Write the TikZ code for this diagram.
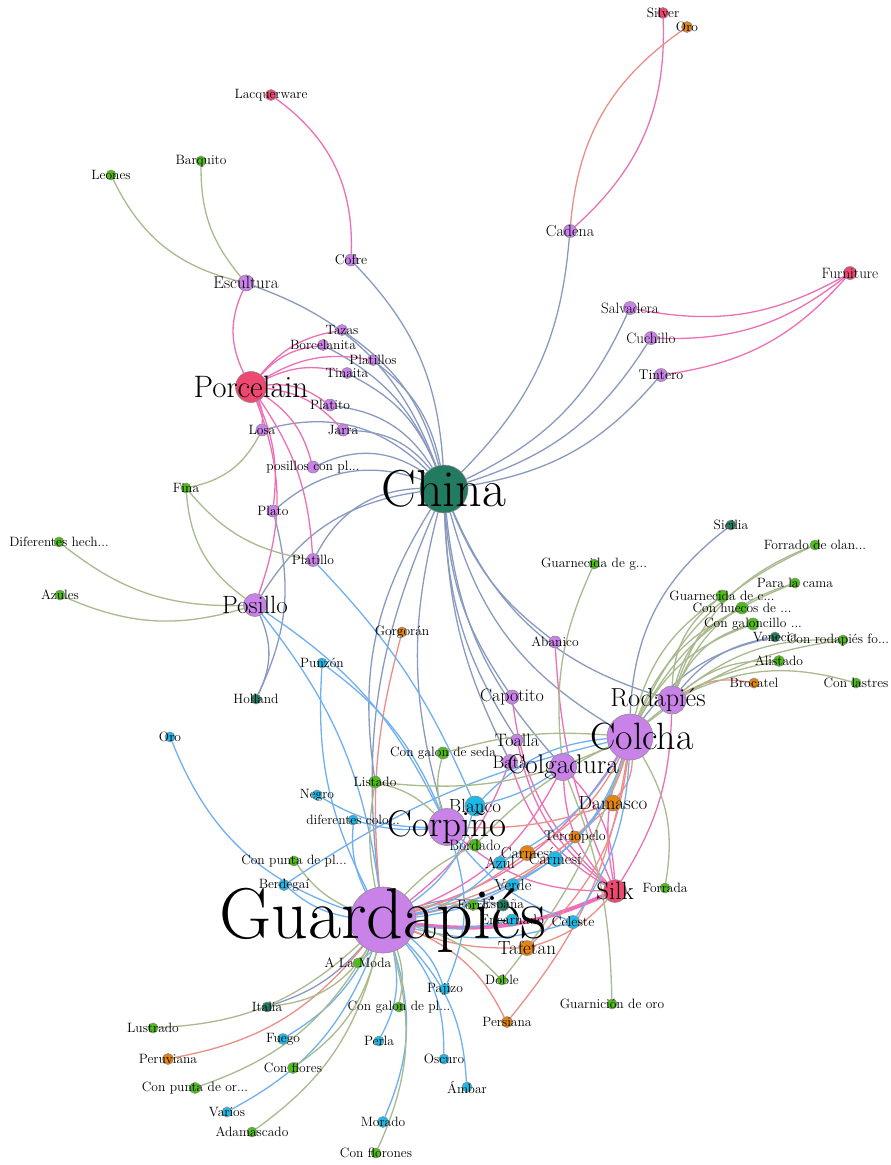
\documentclass[tikz,border=0pt]{standalone}
\usepackage{xcolor}
\usepackage{tikz}
\usetikzlibrary{backgrounds}

\definecolor{cPurple}{RGB}{201,130,232}
\definecolor{cRed}{RGB}{236,72,112}
\definecolor{cGreen}{RGB}{78,190,22}
\definecolor{cOrange}{RGB}{228,132,18}
\definecolor{cCyan}{RGB}{28,186,232}
\definecolor{cTeal}{RGB}{34,122,96}
\definecolor{eSlate}{RGB}{136,154,194}
\definecolor{ePink}{RGB}{236,112,184}
\definecolor{eGreen}{RGB}{168,186,142}
\definecolor{eBlue}{RGB}{112,176,240}
\definecolor{eSalmon}{RGB}{236,142,136}

\newcommand\lblsize[1]{\fontsize{#1}{#1}\selectfont}

\begin{document}
\begin{tikzpicture}[
    x=1pt, y=1pt,
    % the circles
    item/.style={circle, inner sep=0pt, draw=black!45, line width=0.6pt},
    pnode/.style={item, fill=cPurple},
    rnode/.style={item, fill=cRed},
    gnode/.style={item, fill=cGreen},
    onode/.style={item, fill=cOrange},
    cnode/.style={item, fill=cCyan},
    tnode/.style={item, fill=cTeal},
    % the texts
    every label/.style={font=\lblsize{13.5}, text=black, inner sep=0pt},
    % the links
    link/.style={line width=1.3pt},
    slateedge/.style={link, draw=eSlate},
    pinkedge/.style={link, draw=ePink},
    greenedge/.style={link, draw=eGreen},
    blueedge/.style={link, draw=eBlue},
    salmonedge/.style={link, draw=eSalmon}
  ]
  \useasboundingbox (0,0) rectangle (891,-1165);

  % top
  \node (silver) [rnode, minimum size=11pt, label=center:Silver] at (663,-13) {};
  \node (oroA) [onode, minimum size=11pt, label=center:Oro] at (687,-27) {};
  \node (lacquer) [rnode, minimum size=11pt, label=center:Lacquerware] at (271,-95) {};
  \node (barquito) [gnode, minimum size=10pt, label=center:Barquito] at (201,-161) {};
  \node (leones) [gnode, minimum size=10pt, label=center:Leones] at (111,-175) {};
  \node (cofre) [pnode, minimum size=12pt, label={[font=\lblsize{14}]center:Cofre}] at (351,-260) {};
  \node (cadena) [pnode, minimum size=13pt, label={[font=\lblsize{16}]center:Cadena}] at (570,-231) {};
  \node (escultura) [pnode, minimum size=16pt, label={[font=\lblsize{17}]center:Escultura}] at (246,-283) {};
  \node (furniture) [rnode, minimum size=13pt, label={[font=\lblsize{15}]center:Furniture}] at (850,-273) {};
  \node (salvadera) [pnode, minimum size=13pt, label={[font=\lblsize{15}]center:Salvadera}] at (630,-308) {};
  \node (cuchillo) [pnode, minimum size=13pt, label={[font=\lblsize{15}]center:Cuchillo}] at (651,-338) {};
  \node (tintero) [pnode, minimum size=13pt, label={[font=\lblsize{14}]center:Tintero}] at (661,-375) {};

  % porcelain and china
  \node (tazas) [pnode, minimum size=11pt, label=center:Tazas] at (342,-330) {};
  \node (borcelanita) [pnode, minimum size=11pt, label=center:Borcelanita] at (323,-345) {};
  \node (platillos) [pnode, minimum size=11pt, label=center:Platillos] at (373,-360) {};
  \node (tinaita) [pnode, minimum size=11pt, label=center:Tinaita] at (347,-373) {};
  \node (porcelain) [rnode, minimum size=31pt, label={[font=\lblsize{31}]center:Porcelain}] at (251,-387) {};
  \node (platito) [pnode, minimum size=12pt, label=center:Platito] at (330,-405) {};
  \node (losa) [pnode, minimum size=12pt, label=center:Losa] at (262,-430) {};
  \node (jarra) [pnode, minimum size=12pt, label=center:Jarra] at (343,-430) {};
  \node (posillos) [pnode, minimum size=12pt, label={center:posillos con pl...}] at (313,-467) {};
  \node (china) [tnode, minimum size=48pt, label={[font=\lblsize{52}]center:China}] at (444,-489) {};
  \node (fina) [gnode, minimum size=10pt, label=center:Fina] at (186,-488) {};
  \node (plato) [pnode, minimum size=12pt, label=center:Plato] at (273,-511) {};
  \node (platillo) [pnode, minimum size=13pt, label=center:Platillo] at (313,-560) {};
  \node (posillo) [pnode, minimum size=23pt, label={[font=\lblsize{25}]center:Posillo}] at (255,-605) {};
  \node (difhech) [gnode, minimum size=10pt, label={center:Diferentes hech...}] at (59,-542) {};
  \node (azules) [gnode, minimum size=10pt, label=center:Azules] at (60,-595) {};
  \node (holland) [tnode, minimum size=10pt, label=center:Holland] at (256,-699) {};
  \node (punzon) [cnode, minimum size=10pt, label=center:Punzón] at (322,-663) {};
  \node (oroB) [cnode, minimum size=10pt, label=center:Oro] at (170,-737) {};
  \node (gorgoran) [onode, minimum size=10pt, label=center:Gorgorán] at (402,-632) {};
  \node (abanico) [pnode, minimum size=12pt, label=center:Abanico] at (555,-642) {};

  % right cluster
  \node (guarng) [gnode, minimum size=10pt, label={center:Guarnecida de g...}] at (594,-564) {};
  \node (sicilia) [tnode, minimum size=10pt, label=center:Sicilia] at (731,-525) {};
  \node (forrado) [gnode, minimum size=10pt, label={center:Forrado de olan...}] at (815,-545) {};
  \node (paracama) [gnode, minimum size=10pt, label={center:Para la cama}] at (795,-583) {};
  \node (guarnc) [gnode, minimum size=12pt, label={center:Guarnecida de c...}] at (722,-596) {};
  \node (huecos) [gnode, minimum size=12pt, label={center:Con huecos de ...}] at (742,-608) {};
  \node (galoncillo) [gnode, minimum size=12pt, label={center:Con galoncillo ...}] at (753,-624) {};
  \node (venecia) [tnode, minimum size=10pt, label=center:Venecia] at (775,-637) {};
  \node (conrodapies) [gnode, minimum size=10pt, label={[xshift=-5pt]center:Con rodapiés fo...}] at (843,-640) {};
  \node (alistado) [gnode, minimum size=11pt, label=center:Alistado] at (779,-661) {};
  \node (brocatel) [onode, minimum size=10pt, label=center:Brocatel] at (754,-683) {};
  \node (lastres) [gnode, minimum size=10pt, label={center:Con lastres}] at (856,-683) {};
  \node (rodapies) [pnode, minimum size=28pt, label={[font=\lblsize{26}, xshift=-14pt]center:Rodapiés}] at (672,-700) {};

  % middle
  \node (capotito) [pnode, minimum size=14pt, label={[font=\lblsize{18}]center:Capotito}] at (512,-697) {};
  \node (colcha) [pnode, minimum size=46pt, label={[font=\lblsize{38}, xshift=12pt]center:Colcha}] at (630,-737) {};
  \node (toalla) [pnode, minimum size=12pt, label={[font=\lblsize{18}]center:Toalla}] at (517,-740) {};
  \node (bata) [pnode, minimum size=15pt, label={[font=\lblsize{18}]center:Bata}] at (510,-762) {};
  \node (colgadura) [pnode, minimum size=27pt, label={[font=\lblsize{27}]center:Colgadura}] at (563,-767) {};
  \node (galonseda) [gnode, minimum size=12pt, label={center:Con galon de seda}] at (443,-753) {};
  \node (listado) [gnode, minimum size=12pt, label=center:Listado] at (375,-782) {};
  \node (negro) [cnode, minimum size=10pt, label=center:Negro] at (317,-795) {};
  \node (difcolo) [cnode, minimum size=10pt, label={center:diferentes colo...}] at (353,-820) {};
  \node (blanco) [cnode, minimum size=20pt, label={[font=\lblsize{19}]center:Blanco}] at (475,-806) {};
  \node (damasco) [onode, minimum size=16pt, label={[font=\lblsize{19}]center:Damasco}] at (613,-803) {};
  \node (corpino) [pnode, minimum size=37pt, label={[font=\lblsize{37}]center:Corpiño}] at (447,-827) {};
  \node (terciopelo) [onode, minimum size=12pt, label={[font=\lblsize{14}]center:Terciopelo}] at (575,-837) {};
  \node (bordado) [gnode, minimum size=12pt, label={[font=\lblsize{15}]center:Bordado}] at (475,-845) {};
  \node (carmesiA) [onode, minimum size=15pt, label={[font=\lblsize{16}]center:Carmesí}] at (527,-853) {};
  \node (carmesiB) [cnode, minimum size=15pt, label={[font=\lblsize{16}]center:Carmesí}] at (555,-859) {};
  \node (azul) [cnode, minimum size=13pt, label={[font=\lblsize{16}]center:Azul}] at (500,-863) {};
  \node (puntapl) [gnode, minimum size=10pt, label={center:Con punta de pl...}] at (294,-861) {};
  \node (berdegai) [cnode, minimum size=11pt, label=center:Berdegaí] at (284,-885) {};
  \node (silk) [rnode, minimum size=23pt, label={[font=\lblsize{25}]center:Silk}] at (615,-891) {};
  \node (forrada) [gnode, minimum size=10pt, label=center:Forrada] at (665,-888) {};
  \node (verde) [cnode, minimum size=13pt, label={[font=\lblsize{16}]center:Verde}] at (513,-885) {};
  \node (guardapies) [pnode, minimum size=66pt, label={[font=\lblsize{72}]center:Guardapiés}] at (383,-920) {};
  \node (forro) [gnode, minimum size=11pt, label=center:Forro] at (473,-905) {};
  \node (espana) [tnode, minimum size=12pt, label=center:España] at (503,-905) {};
  \node (dot) [circle, fill=black, inner sep=0pt, minimum size=4pt] at (492,-898) {};
  \node (encarnado) [cnode, minimum size=12pt, label={[font=\lblsize{14}]center:Encarnado}] at (512,-920) {};
  \node (celeste) [cnode, minimum size=13pt, label={[font=\lblsize{14}]center:Celeste}] at (573,-922) {};
  \node (tafetan) [onode, minimum size=15pt, label={[font=\lblsize{19}]center:Tafetan}] at (527,-948) {};

  % bottom
  \node (alamoda) [gnode, minimum size=10pt, label={center:A La Moda}] at (358,-963) {};
  \node (doble) [gnode, minimum size=10pt, label=center:Doble] at (502,-980) {};
  \node (pajizo) [cnode, minimum size=11pt, label=center:Pajizo] at (445,-989) {};
  \node (italia) [tnode, minimum size=10pt, label=center:Italia] at (267,-1007) {};
  \node (galonpl) [gnode, minimum size=10pt, label={center:Con galon de pl...}] at (399,-1007) {};
  \node (guarnicion) [gnode, minimum size=10pt, label={center:Guarnición de oro}] at (612,-1004) {};
  \node (persiana) [onode, minimum size=11pt, label=center:Persiana] at (507,-1022) {};
  \node (lustrado) [gnode, minimum size=10pt, label=center:Lustrado] at (153,-1028) {};
  \node (fuego) [cnode, minimum size=11pt, label=center:Fuego] at (283,-1039) {};
  \node (perla) [cnode, minimum size=10pt, label=center:Perla] at (379,-1041) {};
  \node (peruviana) [onode, minimum size=11pt, label=center:Peruviana] at (168,-1059) {};
  \node (conflores) [gnode, minimum size=11pt, label={center:Con flores}] at (293,-1068) {};
  \node (oscuro) [cnode, minimum size=10pt, label=center:Oscuro] at (444,-1059) {};
  \node (ambar) [cnode, minimum size=10pt, label=center:Ámbar] at (467,-1087) {};
  \node (puntaor) [gnode, minimum size=11pt, label={center:Con punta de or...}] at (195,-1088) {};
  \node (varios) [cnode, minimum size=10pt, label=center:Varios] at (227,-1112) {};
  \node (adamascado) [gnode, minimum size=10pt, label=center:Adamascado] at (252,-1132) {};
  \node (morado) [cnode, minimum size=11pt, label=center:Morado] at (383,-1122) {};
  \node (florones) [gnode, minimum size=10pt, label={center:Con florones}] at (376,-1153) {};

  \begin{scope}[on background layer]
    \fill[white] (0,0) rectangle (891,-1165);
    % china and the places
    \foreach \a/\b/\ang in {china/cadena/20, china/salvadera/20, china/cuchillo/20,
        china/tintero/20, china/cofre/20, china/escultura/25, china/tazas/20,
        china/borcelanita/20, china/platillos/20, china/tinaita/20, china/platito/25,
        china/jarra/25, china/losa/30, china/posillos/30, china/plato/30,
        china/platillo/30, china/posillo/25, china/abanico/15, china/capotito/15,
        china/toalla/15, china/bata/12, china/colgadura/18, china/colcha/22,
        china/rodapies/25, china/corpino/15, china/guardapies/15, china/listado/20,
        holland/posillo/25, holland/plato/20, sicilia/colcha/25, venecia/rodapies/20,
        venecia/colcha/20, espana/guardapies/15, italia/guardapies/15}
      \draw[slateedge] (\a) to[bend right=\ang] (\b);
    % porcelain, silk and the rest
    \foreach \a/\b/\ang in {cofre/lacquer/28, cadena/silver/25, salvadera/furniture/20,
        cuchillo/furniture/20, tintero/furniture/20, escultura/porcelain/25,
        tazas/porcelain/20, borcelanita/porcelain/20, platillos/porcelain/20,
        tinaita/porcelain/20, platito/porcelain/20, jarra/porcelain/20,
        losa/porcelain/15, posillos/porcelain/20, plato/porcelain/15,
        platillo/porcelain/15, posillo/porcelain/20, abanico/silk/10,
        capotito/silk/20, toalla/silk/20, bata/silk/20, colgadura/silk/20,
        silk/colgadura/20, colcha/silk/15, silk/rodapies/15, corpino/silk/20,
        guardapies/colcha/20, guardapies/colgadura/20, guardapies/bata/15}
      \draw[pinkedge] (\a) to[bend right=\ang] (\b);
    \draw[pinkedge, line width=4pt] (guardapies) to[bend right=15] (silk);
    % fabrics
    \foreach \a/\b/\ang in {oroA/cadena/25, brocatel/rodapies/20, guardapies/damasco/15,
        damasco/colcha/20, corpino/damasco/10, guardapies/terciopelo/15,
        terciopelo/colcha/15, guardapies/carmesiA/10, carmesiA/colcha/15,
        guardapies/tafetan/10, tafetan/colcha/20, tafetan/silk/15,
        gorgoran/guardapies/10, persiana/guardapies/20, persiana/colcha/15,
        peruviana/guardapies/20}
      \draw[salmonedge] (\a) to[bend right=\ang] (\b);
    % colours
    \foreach \a/\b/\ang in {oroB/guardapies/25, guardapies/posillo/15, corpino/posillo/15,
        punzon/guardapies/15, corpino/punzon/15, blanco/platillo/10,
        guardapies/blanco/20, colcha/blanco/20, blanco/colgadura/10,
        guardapies/azul/15, azul/colcha/15, guardapies/carmesiB/10,
        carmesiB/colcha/15, guardapies/verde/10, verde/colcha/20,
        guardapies/celeste/15, celeste/colcha/15, corpino/celeste/15,
        guardapies/encarnado/10, berdegai/guardapies/15, colcha/berdegai/10,
        negro/corpino/15, difcolo/corpino/10, difcolo/guardapies/15,
        pajizo/guardapies/15, pajizo/corpino/20, fuego/guardapies/15,
        varios/guardapies/20, perla/guardapies/20, morado/guardapies/20,
        oscuro/guardapies/20, ambar/guardapies/20}
      \draw[blueedge] (\a) to[bend right=\ang] (\b);
    % trimmings
    \foreach \a/\b/\ang in {leones/escultura/25, barquito/escultura/20, fina/losa/25,
        fina/posillo/25, fina/platillo/20, difhech/posillo/20, azules/posillo/20,
        guarng/colgadura/15, forrado/rodapies/25, paracama/rodapies/25,
        guarnc/rodapies/25, huecos/rodapies/25, galoncillo/rodapies/25,
        conrodapies/rodapies/20, alistado/rodapies/20, lastres/rodapies/20,
        guarnc/colcha/20, huecos/colcha/20, galoncillo/colcha/20, paracama/colcha/20,
        alistado/colcha/15, conrodapies/colcha/15, forrado/colcha/20,
        listado/guardapies/10, corpino/listado/15, listado/colcha/15,
        galonseda/corpino/15, colcha/galonseda/10, bordado/guardapies/10,
        bordado/corpino/15, colcha/bordado/10, puntapl/guardapies/15,
        forro/guardapies/10, doble/guardapies/15, doble/colcha/10,
        forrada/colcha/20, guarnicion/colgadura/10, alamoda/guardapies/10,
        lustrado/guardapies/20, conflores/guardapies/20, puntaor/guardapies/20,
        adamascado/guardapies/20, galonpl/guardapies/15, florones/guardapies/20,
        italia/guardapies/25}
      \draw[greenedge] (\a) to[bend right=\ang] (\b);
  \end{scope}
\end{tikzpicture}
\end{document}
